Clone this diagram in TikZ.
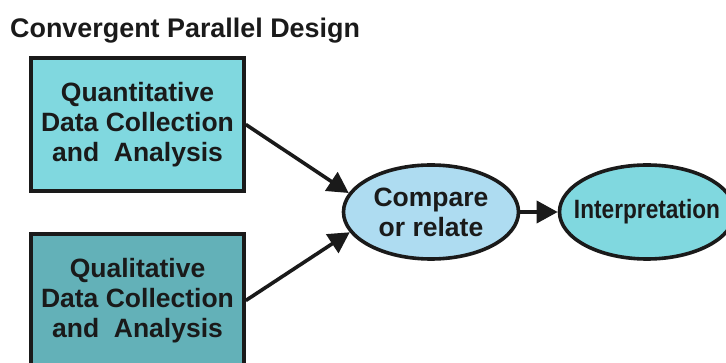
\documentclass[tikz,border=0pt]{standalone}
\usepackage{fontspec}
\setmainfont{Liberation Sans}
\usetikzlibrary{shapes.geometric,arrows.meta}
\definecolor{ink}{HTML}{1A1A1A}
\definecolor{quantfill}{HTML}{80D8DF}
\definecolor{qualfill}{HTML}{63B1B8}
\definecolor{comparefill}{HTML}{AEDCF1}
\definecolor{interpfill}{HTML}{80D8DF}
\tikzset{
  boxtext/.style={font=\bfseries\fontsize{26.5}{30}\selectfont, text=ink, align=center},
  databox/.style={boxtext, draw=ink, line width=3.6pt, rectangle,
    minimum width=213pt, minimum height=133pt, inner sep=0pt},
  oval/.style={draw=ink, line width=3.6pt, ellipse,
    minimum width=175pt, minimum height=94pt, inner sep=0pt},
  link/.style={draw=ink, line width=3.6pt,
    -{Triangle[length=21pt,width=22pt]}},
}
\begin{document}
\begin{tikzpicture}[x=1pt,y=-1pt]
\useasboundingbox (0,0) rectangle (726,363);
% heading
\node[anchor=base west, inner sep=0pt, font=\bfseries\fontsize{26.9}{30}\selectfont, text=ink]
  (title) at (10,38) {Convergent Parallel Design};
% the two data strands
\node[databox, fill=quantfill] (quant) at (137.5,124.5)
  {Quantitative\\Data Collection\\and\ \ Analysis};
\node[databox, fill=qualfill] (qual) at (137.5,300.5)
  {Qualitative\\Data Collection\\and\ \ Analysis};
% merging step and interpretation (outlines, then their labels)
\node[oval, fill=comparefill] (compare) at (431,212) {};
\node[boxtext, inner sep=0pt] (comparetext) at (compare.center) {Compare\\or relate};
\node[oval, fill=interpfill] (interp) at (647,212) {};
\node[boxtext, inner sep=0pt] (interptext) at (interp.center)
  {\scalebox{0.855}[1]{Interpretation}};
% connectors
\draw[link] (quant.east) -- (compare.167);
\draw[link] (qual.east) -- (compare.194);
\draw[link] (compare) -- (interp);
\end{tikzpicture}
\end{document}
